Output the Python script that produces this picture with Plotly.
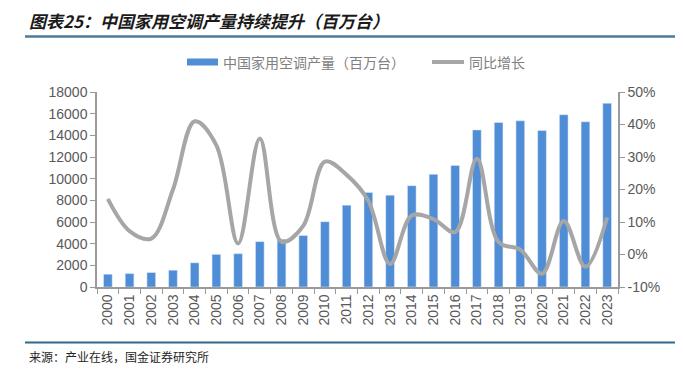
import plotly.graph_objects as go

years = [str(y) for y in range(2000, 2024)]
production = [1180, 1240, 1335, 1550, 2235, 3010, 3075, 4190, 4410, 4750, 6025, 7550,
              8725, 8480, 9350, 10400, 11210, 14500, 15190, 15340, 14440, 15900, 15250, 16960]
growth = [17.1, 7.2, 4.9, 20.0, 41.0, 33.6, 3.4, 35.7, 3.9, 8.8, 28.6, 24.5,
          16.5, -2.9, 12.0, 10.9, 6.9, 29.5, 3.8, 1.5, -5.9, 10.3, -3.8, 11.4]

bar_name = "中国家用空调产量（百万台）"
line_name = "同比增长"
left_ticks = list(range(0, 18001, 2000))
right_ticks = list(range(-10, 51, 10))

OFF = 8  # page body margin
W, H = 683 - OFF, 371 - OFF
L, R, T, B = 97 - OFF, 618 - OFF, 92 - OFF, 287 - OFF


def px(x):
    return (x - OFF - L) / (R - L)


def py(y):
    return (B - (y - OFF)) / (B - T)


BAR_COLOR = "#4F8DD6"
LINE_COLOR = "#A6A6A6"
font_cn = "Noto Sans CJK SC"

fig = go.Figure()
fig.add_trace(go.Bar(x=years, y=production, name=bar_name, marker_color=BAR_COLOR,
                     width=0.4, yaxis="y", showlegend=False))
fig.add_trace(go.Scatter(x=years, y=growth, name=line_name, mode="lines",
                         line=dict(color=LINE_COLOR, width=4, shape="spline", smoothing=1.0),
                         yaxis="y2", showlegend=False))

tickfont = dict(family="Liberation Sans, Arial", size=14, color="#595959")
fig.update_layout(
    width=W, height=H,
    margin=dict(l=L, r=W - R, t=T, b=H - B, autoexpand=False),
    paper_bgcolor="white", plot_bgcolor="white",
    font=dict(family="Liberation Sans, Arial", size=14, color="#595959"),
    showlegend=False,
    xaxis=dict(type="category", tickangle=-90, showline=True, linecolor="#9A9A9A", linewidth=1.5,
               ticks="outside", ticklen=5, tickcolor="#9A9A9A", tickson="boundaries",
               showgrid=False, tickfont=tickfont),
    yaxis=dict(range=[0, 18000], tickvals=left_ticks, ticktext=[str(v) for v in left_ticks],
               showline=True, linecolor="#9A9A9A",
               linewidth=1.5, ticks="outside", ticklen=5, tickcolor="#9A9A9A",
               showgrid=False, zeroline=False, tickfont=tickfont),
    yaxis2=dict(range=[-10, 50], tickvals=right_ticks, ticktext=[f"{v}%" for v in right_ticks],
                overlaying="y", side="right", showline=True, linecolor="#9A9A9A", linewidth=1.5,
                ticks="outside", ticklen=5, tickcolor="#9A9A9A", showgrid=False, zeroline=False,
                tickfont=tickfont),
)

# header / footer rules
fig.add_shape(type="line", xref="paper", yref="paper", x0=px(25), x1=px(683), y0=py(36.5), y1=py(36.5),
              line=dict(color="#4A7B96", width=2.5))
fig.add_shape(type="line", xref="paper", yref="paper", x0=px(25), x1=px(683), y0=py(342.5), y1=py(342.5),
              line=dict(color="#2F6A8C", width=2))

# custom legend
fig.add_shape(type="rect", xref="paper", yref="paper", x0=px(187), x1=px(218), y0=py(58.5), y1=py(65.5),
              fillcolor=BAR_COLOR, line=dict(width=0))
fig.add_annotation(text=bar_name, xref="paper", yref="paper", x=px(221), y=py(62),
                   xanchor="left", yanchor="middle", showarrow=False,
                   font=dict(family=font_cn, size=14, color="#808080"))
fig.add_shape(type="line", xref="paper", yref="paper", x0=px(432), x1=px(464), y0=py(62), y1=py(62),
              line=dict(color=LINE_COLOR, width=4))
fig.add_annotation(text=line_name, xref="paper", yref="paper", x=px(467), y=py(62),
                   xanchor="left", yanchor="middle", showarrow=False,
                   font=dict(family=font_cn, size=14, color="#808080"))

fig.add_annotation(text="<b><i>图表25：中国家用空调产量持续提升（百万台）</i></b>", xref="paper", yref="paper",
                   x=px(27), y=py(20), xanchor="left", yanchor="middle", showarrow=False,
                   font=dict(family=font_cn, size=17, color="#1A1A1A"))
fig.add_annotation(text="来源：产业在线，国金证券研究所", xref="paper", yref="paper",
                   x=px(27), y=py(356), xanchor="left", yanchor="middle", showarrow=False,
                   font=dict(family=font_cn, size=12, color="#262626"))

fig.write_html("out.html")
